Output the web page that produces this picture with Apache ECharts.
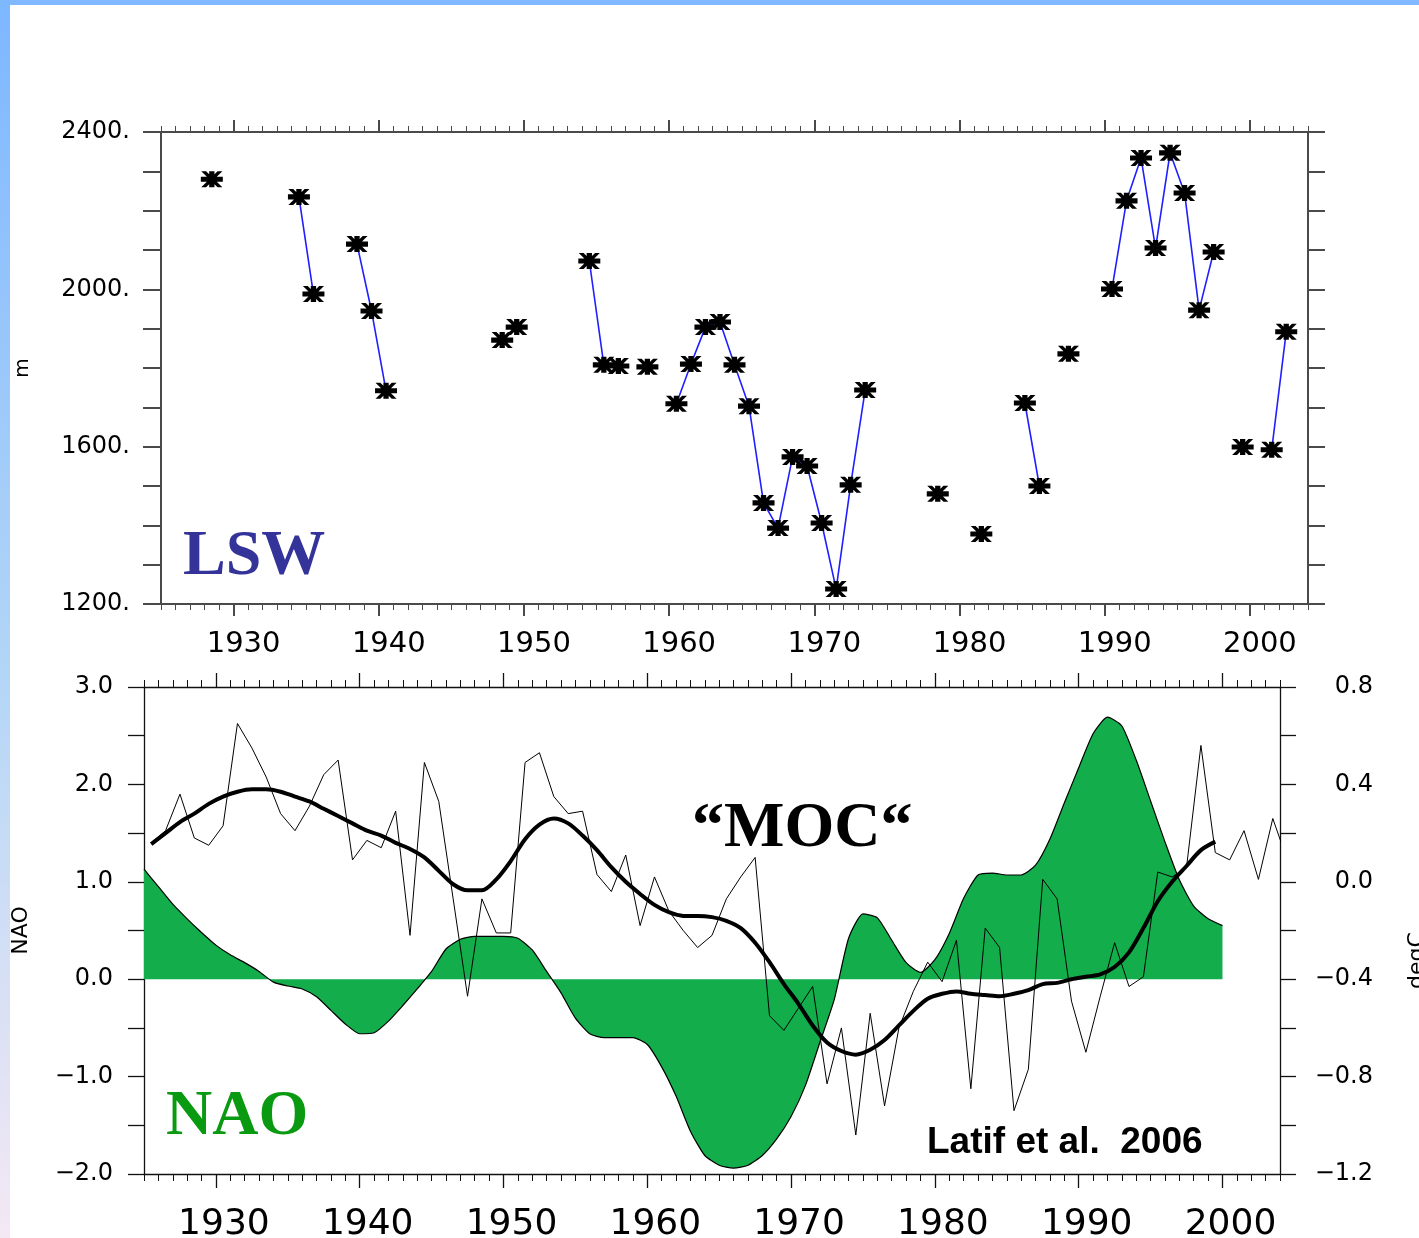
<!DOCTYPE html>
<html><head><meta charset="utf-8">
<script src="https://cdn.jsdelivr.net/npm/echarts@6/dist/echarts.min.js"></script>
<style>html,body{margin:0;padding:0;background:#fff}#c{width:1419px;height:1238px}</style>
</head><body><div id="c"></div>
<script>
// ---------------- data ----------------
const xMin = 1925, xMax = 2004;
const xTickYears = [1930, 1940, 1950, 1960, 1970, 1980, 1990, 2000];

// LSW thickness (m), annual (plotted at mid-year)
const lswYears = [1928, 1934, 1935, 1938, 1939, 1940, 1948, 1949, 1954, 1955, 1956, 1958,
  1960, 1961, 1962, 1963, 1964, 1965, 1966, 1967, 1968, 1969, 1970, 1971, 1972, 1973,
  1978, 1981, 1984, 1985, 1987, 1990, 1991, 1992, 1993, 1994, 1995, 1996, 1997, 1999, 2001, 2002];
const lswDepth = [2280, 2235, 1988, 2115, 1945, 1742, 1871, 1904, 2072, 1808, 1805, 1803,
  1709, 1810, 1904, 1917, 1808, 1703, 1457, 1393, 1574, 1551, 1406, 1238, 1503, 1744,
  1480, 1378, 1711, 1500, 1836, 2001, 2225, 2334, 2105, 2347, 2245, 1947, 2095, 1599, 1592, 1892];

// smoothed NAO index, 1925..2000
const naoStartYear = 1925;
const naoSmooth = [1.13, 0.95, 0.77, 0.62, 0.48, 0.35, 0.25, 0.17, 0.08, -0.03,
  -0.07, -0.10, -0.18, -0.32, -0.46, -0.56, -0.55, -0.43, -0.27, -0.10,
  0.08, 0.31, 0.41, 0.44, 0.44, 0.44, 0.42, 0.30, 0.08, -0.14,
  -0.40, -0.56, -0.60, -0.60, -0.60, -0.67, -0.90, -1.20, -1.56, -1.81,
  -1.91, -1.94, -1.91, -1.81, -1.64, -1.41, -1.09, -0.65, -0.21, 0.42,
  0.67, 0.63, 0.40, 0.17, 0.07, 0.20, 0.47, 0.83, 1.07, 1.09,
  1.07, 1.07, 1.17, 1.44, 1.81, 2.17, 2.52, 2.69, 2.60, 2.25,
  1.83, 1.41, 1.02, 0.75, 0.62, 0.55];

// "MOC" index (degC), annual values 1925.5..2004.5
const mocStartYear = 1925;
const mocAnnual = [0.16, 0.21, 0.36, 0.18, 0.15, 0.23, 0.65, 0.55, 0.43, 0.28,
  0.21, 0.31, 0.44, 0.50, 0.09, 0.17, 0.14, 0.29, -0.22, 0.49,
  0.33, -0.07, -0.47, -0.07, -0.21, -0.21, 0.49, 0.53, 0.35, 0.28,
  0.29, 0.03, -0.04, 0.11, -0.18, 0.02, -0.12, -0.20, -0.27, -0.22,
  -0.07, 0.02, 0.10, -0.55, -0.61, -0.52, -0.43, -0.83, -0.60, -1.04,
  -0.54, -0.92, -0.60, -0.45, -0.33, -0.41, -0.24, -0.85, -0.19, -0.27,
  -0.94, -0.77, 0.01, -0.07, -0.49, -0.70, -0.47, -0.25, -0.43, -0.39,
  0.04, 0.02, 0.06, 0.56, 0.12, 0.09, 0.21, 0.01, 0.26, 0.09];
// smoothed "MOC" index (degC), 1925.5..1999.5
const mocSmooth = [0.155, 0.20, 0.245, 0.28, 0.32, 0.35, 0.37, 0.38, 0.38, 0.37,
  0.35, 0.33, 0.30, 0.27, 0.24, 0.21, 0.19, 0.16, 0.135, 0.10,
  0.045, -0.01, -0.035, -0.035, 0.01, 0.085, 0.175, 0.235, 0.26, 0.24,
  0.19, 0.13, 0.06, 0.00, -0.05, -0.095, -0.125, -0.14, -0.14, -0.145,
  -0.16, -0.19, -0.25, -0.33, -0.42, -0.50, -0.59, -0.66, -0.695, -0.71,
  -0.69, -0.65, -0.59, -0.53, -0.48, -0.46, -0.45, -0.46, -0.465, -0.47,
  -0.46, -0.445, -0.42, -0.415, -0.40, -0.39, -0.38, -0.35, -0.29, -0.19,
  -0.08, 0.00, 0.065, 0.13, 0.165];

// ---------------- build series data ----------------
const lswData = [];
for (let y = lswYears[0]; y <= lswYears[lswYears.length - 1]; y++) {
  const i = lswYears.indexOf(y);
  lswData.push([y + 0.5, i >= 0 ? lswDepth[i] : '-']);
}
const naoData = naoSmooth.map((v, i) => [naoStartYear + i, v]);
const mocAnnualData = mocAnnual.map((v, i) => [mocStartYear + i + 0.5, v]);
const mocSmoothData = mocSmooth.map((v, i) => [mocStartYear + i + 0.5, v]);

const MINUS = '\u2212';
const asterisk = 'path://M0 34 L100 34 L100 66 L0 66 Z M38 0 L62 0 L62 100 L38 100 Z ' +
  'M2 0 L24 0 L98 100 L76 100 Z M76 0 L98 0 L24 100 L2 100 Z';

function makeXAxes(g, color, width, font, margin, pad, majLen, minLen) {
  const base = { type: 'value', gridIndex: g, min: xMin, max: xMax, splitLine: { show: false } };
  const line = { show: true, onZero: false, lineStyle: { color: color, width: width } };
  return [
    Object.assign({}, base, {
      position: 'bottom', axisLine: line,
      axisTick: { show: true, customValues: xTickYears, length: majLen, lineStyle: { color: color, width: width } },
      axisLabel: { show: true, customValues: xTickYears, margin: margin, fontFamily: 'DejaVu Sans',
        fontSize: font, color: '#000', padding: [0, 0, 0, pad], formatter: v => String(v) }
    }),
    Object.assign({}, base, {
      position: 'bottom', interval: 1, axisLine: { show: false, onZero: false },
      axisTick: { show: true, length: minLen, lineStyle: { color: color, width: 1 } }, axisLabel: { show: false }
    }),
    Object.assign({}, base, {
      position: 'top', axisLine: line,
      axisTick: { show: true, customValues: xTickYears, length: majLen, lineStyle: { color: color, width: width } },
      axisLabel: { show: false }
    }),
    Object.assign({}, base, {
      position: 'top', interval: 1, axisLine: { show: false, onZero: false },
      axisTick: { show: true, length: minLen, lineStyle: { color: color, width: 1 } }, axisLabel: { show: false }
    })
  ];
}

const topColor = '#4a4a4a', botColor = '#111';

const option = {
  animation: false,
  backgroundColor: '#fff',
  grid: [
    { left: 161, top: 132, width: 1147, height: 472, outerBoundsMode: 'none', containLabel: false },
    { left: 144, top: 687, width: 1136, height: 487, outerBoundsMode: 'none', containLabel: false }
  ],
  xAxis: [].concat(
    makeXAxes(0, topColor, 2, 29, 26, 20, 12, 6),
    makeXAxes(1, botColor, 1.3, 36, 33, 16, 14, 7)
  ),
  yAxis: [
    {
      type: 'value', gridIndex: 0, position: 'left', min: 1200, max: 2400, interval: 100,
      name: 'm', nameLocation: 'middle', nameRotate: 90, nameGap: 128,
      nameTextStyle: { fontFamily: 'DejaVu Sans', fontSize: 20, color: '#000' },
      axisLine: { show: true, onZero: false, lineStyle: { color: topColor, width: 2 } },
      axisTick: { show: true, length: 18, lineStyle: { color: topColor, width: 2 } },
      axisLabel: { margin: 31, fontFamily: 'DejaVu Sans', fontSize: 24, color: '#000',
        formatter: v => (v % 400 === 0 ? v + '.' : '') },
      splitLine: { show: false }
    },
    {
      type: 'value', gridIndex: 0, position: 'right', min: 1200, max: 2400, interval: 100,
      axisLine: { show: true, onZero: false, lineStyle: { color: topColor, width: 2 } },
      axisTick: { show: true, length: 17, lineStyle: { color: topColor, width: 2 } },
      axisLabel: { show: false }, splitLine: { show: false }
    },
    {
      type: 'value', gridIndex: 1, position: 'left', min: -2, max: 3, interval: 0.5,
      name: 'NAO', nameLocation: 'middle', nameRotate: 90, nameGap: 112,
      nameTextStyle: { fontFamily: 'DejaVu Sans', fontSize: 22, color: '#000' },
      axisLine: { show: true, onZero: false, lineStyle: { color: botColor, width: 1.3 } },
      axisTick: { show: true, length: 16, lineStyle: { color: botColor, width: 1.3 } },
      axisLabel: { margin: 31, fontFamily: 'DejaVu Sans', fontSize: 24, color: '#000',
        formatter: v => Number.isInteger(v) ? (v < 0 ? MINUS : '') + Math.abs(v).toFixed(1) : '' },
      splitLine: { show: false }
    },
    {
      type: 'value', gridIndex: 1, position: 'right', min: -1.2, max: 0.8, interval: 0.2,
      name: 'degC', nameLocation: 'middle', nameRotate: 90, nameGap: 126,
      nameTextStyle: { fontFamily: 'DejaVu Sans', fontSize: 22, color: '#000', padding: [0, 60, 0, 0] },
      axisLine: { show: true, onZero: false, lineStyle: { color: botColor, width: 1.3 } },
      axisTick: { show: true, length: 16, lineStyle: { color: botColor, width: 1.3 } },
      axisLabel: { margin: 93, align: 'right', fontFamily: 'DejaVu Sans', fontSize: 24, color: '#000',
        formatter: v => { const k = Math.round(v * 10); return k % 4 === 0 ? (k < 0 ? MINUS : '') + Math.abs(k / 10).toFixed(1) : ''; } },
      splitLine: { show: false }
    }
  ],
  series: [
    {
      name: 'LSW', type: 'line', xAxisIndex: 0, yAxisIndex: 0, data: lswData,
      connectNulls: false, symbol: asterisk, symbolSize: [22, 16], showSymbol: true,
      itemStyle: { color: '#000' }, lineStyle: { color: '#1f1fff', width: 1.6 }, z: 3
    },
    {
      name: 'NAO', type: 'line', xAxisIndex: 4, yAxisIndex: 2, data: naoData,
      showSymbol: false, symbol: 'none', smooth: 0.2,
      lineStyle: { color: '#000', width: 1.2 }, areaStyle: { color: '#13ad4b', opacity: 1, origin: 0 }, z: 2
    },
    {
      name: 'MOC annual', type: 'line', xAxisIndex: 4, yAxisIndex: 3, data: mocAnnualData,
      showSymbol: false, symbol: 'none', clip: false,
      lineStyle: { color: '#000', width: 1 }, z: 3
    },
    {
      name: 'MOC smooth', type: 'line', xAxisIndex: 4, yAxisIndex: 3, data: mocSmoothData,
      showSymbol: false, symbol: 'none', smooth: 0.3,
      lineStyle: { color: '#000', width: 4 }, z: 4
    }
  ],
  graphic: [
    { type: 'rect', left: 0, top: 0, shape: { width: 1419, height: 5 }, style: { fill: '#80b9ff' }, z: 10 },
    { type: 'rect', left: 0, top: 0, shape: { width: 10, height: 1238 },
      style: { fill: new echarts.graphic.LinearGradient(0, 0, 0, 1, [
        { offset: 0, color: '#7db7ff' }, { offset: 0.55, color: '#b4d6f6' }, { offset: 1, color: '#f4e8f4' }]) }, z: 10 },
    { type: 'text', x: 183, y: 557, style: { text: 'LSW', fill: '#333399', font: 'bold 64px "Liberation Serif"',
      textAlign: 'left', textVerticalAlign: 'middle' }, z: 20 },
    { type: 'text', x: 166, y: 1117, style: { text: 'NAO', fill: '#0a9a12', font: 'bold 64px "Liberation Serif"',
      textAlign: 'left', textVerticalAlign: 'middle' }, z: 20 },
    { type: 'text', x: 692, y: 829, style: { text: '\u201CMOC\u201C', fill: '#000', font: 'bold 64px "Liberation Serif"',
      textAlign: 'left', textVerticalAlign: 'middle' }, z: 20 },
    { type: 'text', x: 927, y: 1143, style: { text: 'Latif et al.  2006', fill: '#000', font: 'bold 37px "Liberation Sans"',
      textAlign: 'left', textVerticalAlign: 'middle' }, z: 20 }
  ]
};

const chart = echarts.init(document.getElementById('c'), null, { renderer: 'canvas' });
chart.setOption(option);
</script>
</body></html>
